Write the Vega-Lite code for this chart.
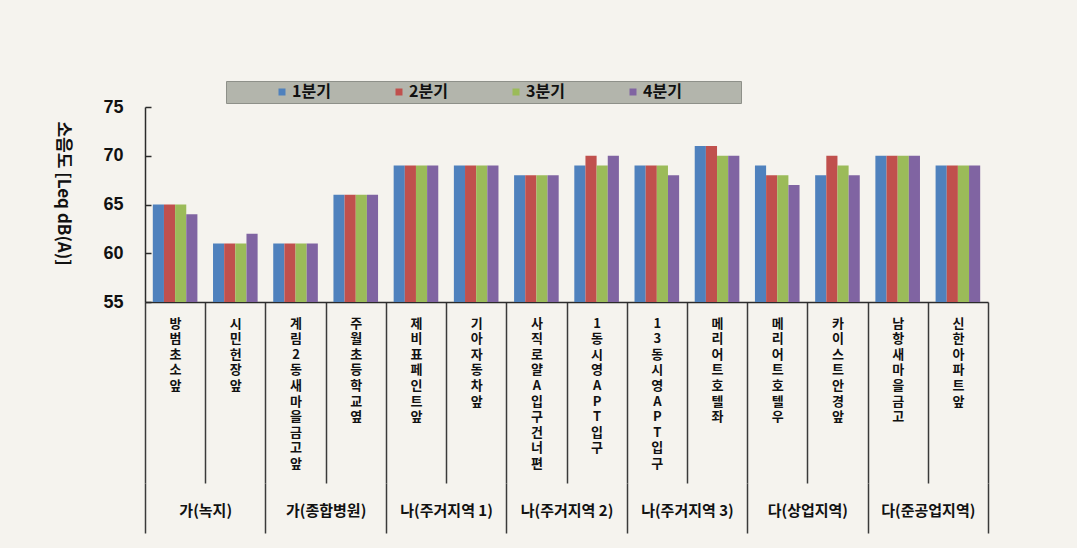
{
  "$schema": "https://vega.github.io/schema/vega-lite/v6.json",
  "autosize": {"type": "none"},
  "width": 843,
  "height": 195,
  "padding": {"left": 145, "top": 107, "right": 89, "bottom": 246},
  "background": "#f5f3ee",
  "config": {
    "view": {"stroke": null},
    "font": "Liberation Sans, Noto Sans CJK KR"
  },
  "data": {
    "values": [
      {"group": "가(녹지)", "location": "방범초소앞", "quarter": "1분기", "value": 65},
      {"group": "가(녹지)", "location": "방범초소앞", "quarter": "2분기", "value": 65},
      {"group": "가(녹지)", "location": "방범초소앞", "quarter": "3분기", "value": 65},
      {"group": "가(녹지)", "location": "방범초소앞", "quarter": "4분기", "value": 64},
      {"group": "가(녹지)", "location": "시민헌장앞", "quarter": "1분기", "value": 61},
      {"group": "가(녹지)", "location": "시민헌장앞", "quarter": "2분기", "value": 61},
      {"group": "가(녹지)", "location": "시민헌장앞", "quarter": "3분기", "value": 61},
      {"group": "가(녹지)", "location": "시민헌장앞", "quarter": "4분기", "value": 62},
      {"group": "가(종합병원)", "location": "계림2동새마을금고앞", "quarter": "1분기", "value": 61},
      {"group": "가(종합병원)", "location": "계림2동새마을금고앞", "quarter": "2분기", "value": 61},
      {"group": "가(종합병원)", "location": "계림2동새마을금고앞", "quarter": "3분기", "value": 61},
      {"group": "가(종합병원)", "location": "계림2동새마을금고앞", "quarter": "4분기", "value": 61},
      {"group": "가(종합병원)", "location": "주월초등학교옆", "quarter": "1분기", "value": 66},
      {"group": "가(종합병원)", "location": "주월초등학교옆", "quarter": "2분기", "value": 66},
      {"group": "가(종합병원)", "location": "주월초등학교옆", "quarter": "3분기", "value": 66},
      {"group": "가(종합병원)", "location": "주월초등학교옆", "quarter": "4분기", "value": 66},
      {"group": "나(주거지역 1)", "location": "제비표페인트앞", "quarter": "1분기", "value": 69},
      {"group": "나(주거지역 1)", "location": "제비표페인트앞", "quarter": "2분기", "value": 69},
      {"group": "나(주거지역 1)", "location": "제비표페인트앞", "quarter": "3분기", "value": 69},
      {"group": "나(주거지역 1)", "location": "제비표페인트앞", "quarter": "4분기", "value": 69},
      {"group": "나(주거지역 1)", "location": "기아자동차앞", "quarter": "1분기", "value": 69},
      {"group": "나(주거지역 1)", "location": "기아자동차앞", "quarter": "2분기", "value": 69},
      {"group": "나(주거지역 1)", "location": "기아자동차앞", "quarter": "3분기", "value": 69},
      {"group": "나(주거지역 1)", "location": "기아자동차앞", "quarter": "4분기", "value": 69},
      {"group": "나(주거지역 2)", "location": "사직로얄A 입구건너편", "quarter": "1분기", "value": 68},
      {"group": "나(주거지역 2)", "location": "사직로얄A 입구건너편", "quarter": "2분기", "value": 68},
      {"group": "나(주거지역 2)", "location": "사직로얄A 입구건너편", "quarter": "3분기", "value": 68},
      {"group": "나(주거지역 2)", "location": "사직로얄A 입구건너편", "quarter": "4분기", "value": 68},
      {"group": "나(주거지역 2)", "location": "1동 시영APT 입구", "quarter": "1분기", "value": 69},
      {"group": "나(주거지역 2)", "location": "1동 시영APT 입구", "quarter": "2분기", "value": 70},
      {"group": "나(주거지역 2)", "location": "1동 시영APT 입구", "quarter": "3분기", "value": 69},
      {"group": "나(주거지역 2)", "location": "1동 시영APT 입구", "quarter": "4분기", "value": 70},
      {"group": "나(주거지역 3)", "location": "13동 시영APT 입구", "quarter": "1분기", "value": 69},
      {"group": "나(주거지역 3)", "location": "13동 시영APT 입구", "quarter": "2분기", "value": 69},
      {"group": "나(주거지역 3)", "location": "13동 시영APT 입구", "quarter": "3분기", "value": 69},
      {"group": "나(주거지역 3)", "location": "13동 시영APT 입구", "quarter": "4분기", "value": 68},
      {"group": "나(주거지역 3)", "location": "메리어트호텔좌", "quarter": "1분기", "value": 71},
      {"group": "나(주거지역 3)", "location": "메리어트호텔좌", "quarter": "2분기", "value": 71},
      {"group": "나(주거지역 3)", "location": "메리어트호텔좌", "quarter": "3분기", "value": 70},
      {"group": "나(주거지역 3)", "location": "메리어트호텔좌", "quarter": "4분기", "value": 70},
      {"group": "다(상업지역)", "location": "메리어트호텔우", "quarter": "1분기", "value": 69},
      {"group": "다(상업지역)", "location": "메리어트호텔우", "quarter": "2분기", "value": 68},
      {"group": "다(상업지역)", "location": "메리어트호텔우", "quarter": "3분기", "value": 68},
      {"group": "다(상업지역)", "location": "메리어트호텔우", "quarter": "4분기", "value": 67},
      {"group": "다(상업지역)", "location": "카이스트안경앞", "quarter": "1분기", "value": 68},
      {"group": "다(상업지역)", "location": "카이스트안경앞", "quarter": "2분기", "value": 70},
      {"group": "다(상업지역)", "location": "카이스트안경앞", "quarter": "3분기", "value": 69},
      {"group": "다(상업지역)", "location": "카이스트안경앞", "quarter": "4분기", "value": 68},
      {"group": "다(준공업지역)", "location": "남항새마을금고", "quarter": "1분기", "value": 70},
      {"group": "다(준공업지역)", "location": "남항새마을금고", "quarter": "2분기", "value": 70},
      {"group": "다(준공업지역)", "location": "남항새마을금고", "quarter": "3분기", "value": 70},
      {"group": "다(준공업지역)", "location": "남항새마을금고", "quarter": "4분기", "value": 70},
      {"group": "다(준공업지역)", "location": "신한아파트앞", "quarter": "1분기", "value": 69},
      {"group": "다(준공업지역)", "location": "신한아파트앞", "quarter": "2분기", "value": 69},
      {"group": "다(준공업지역)", "location": "신한아파트앞", "quarter": "3분기", "value": 69},
      {"group": "다(준공업지역)", "location": "신한아파트앞", "quarter": "4분기", "value": 69}
    ]
  },
  "layer": [
    {
      "mark": {"type": "bar", "clip": true},
      "encoding": {
        "x": {
          "field": "location",
          "type": "nominal",
          "sort": null,
          "scale": {"paddingInner": 0, "paddingOuter": 0},
          "axis": {
            "title": null,
            "domain": true,
            "domainColor": "#2b2b2b",
            "domainWidth": 1.5,
            "ticks": true,
            "tickBand": "extent",
            "tickSize": 181,
            "tickColor": "#3a3a3a",
            "tickWidth": 1.5,
            "labelAngle": 0,
            "labelAlign": "center",
            "labelBaseline": "top",
            "labelPadding": -166,
            "labelFontSize": 13,
            "labelFontWeight": "bold",
            "labelColor": "#111111",
            "labelFont": "Noto Sans CJK KR",
            "labelLineHeight": 15.6,
            "labelOverlap": false,
            "labelBound": false,
            "labelLimit": 0,
            "labelExpr": "split(datum.label, '')"
          }
        },
        "xOffset": {
          "field": "quarter",
          "type": "nominal",
          "scale": {"paddingInner": 0, "paddingOuter": 0.7}
        },
        "y": {
          "field": "value",
          "type": "quantitative",
          "scale": {"domain": [55, 75], "nice": false, "zero": false},
          "axis": {
            "values": [55, 60, 65, 70, 75],
            "grid": false,
            "domainColor": "#2b2b2b",
            "domainWidth": 1.5,
            "tickColor": "#2b2b2b",
            "tickWidth": 1.5,
            "tickSize": -6,
            "labelPadding": 28,
            "labelFontSize": 18,
            "labelFontWeight": "bold",
            "labelColor": "#111111",
            "title": "소음도 [Leq  dB(A)]",
            "titleAngle": 90,
            "titleX": -83,
            "titleY": 86,
            "titleAlign": "center",
            "titleBaseline": "middle",
            "titleFontSize": 17,
            "titleFontWeight": "bold",
            "titleColor": "#111111",
            "titleFont": "Noto Sans CJK KR"
          }
        },
        "color": {
          "field": "quarter",
          "type": "nominal",
          "scale": {"domain": ["1분기", "2분기", "3분기", "4분기"], "range": ["#4f81bd", "#c0504d", "#9bbb59", "#8064a2"]},
          "legend": {
            "orient": "none",
            "legendX": 81,
            "legendY": -26,
            "direction": "horizontal",
            "columns": 4,
            "columnPadding": 15,
            "symbolOffset": 45,
            "title": " ",
            "titleOrient": "right",
            "titlePadding": 56,
            "fillColor": "#b3b5ac",
            "strokeColor": "#8e9089",
            "padding": 3,
            "symbolType": "square",
            "symbolSize": 49,
            "symbolStrokeWidth": 0,
            "labelOffset": 2,
            "labelFontSize": 16,
            "labelFontWeight": "bold",
            "labelColor": "#111111",
            "labelFont": "Noto Sans CJK KR"
          }
        }
      }
    },
    {
      "mark": {"type": "bar", "opacity": 0},
      "encoding": {
        "x": {
          "field": "group",
          "type": "nominal",
          "sort": null,
          "scale": {"paddingInner": 0, "paddingOuter": 0},
          "axis": {
            "orient": "bottom",
            "offset": 181,
            "title": null,
            "domain": false,
            "ticks": true,
            "tickBand": "extent",
            "tickSize": 50,
            "tickColor": "#3a3a3a",
            "tickWidth": 1.5,
            "labelAngle": 0,
            "labelAlign": "center",
            "labelBaseline": "middle",
            "labelPadding": -23,
            "labelFontSize": 15,
            "labelFontWeight": "bold",
            "labelColor": "#111111",
            "labelFont": "Noto Sans CJK KR",
            "labelOverlap": false,
            "labelBound": false
          }
        }
      }
    }
  ],
  "resolve": {"scale": {"x": "independent"}, "axis": {"x": "independent"}}
}
